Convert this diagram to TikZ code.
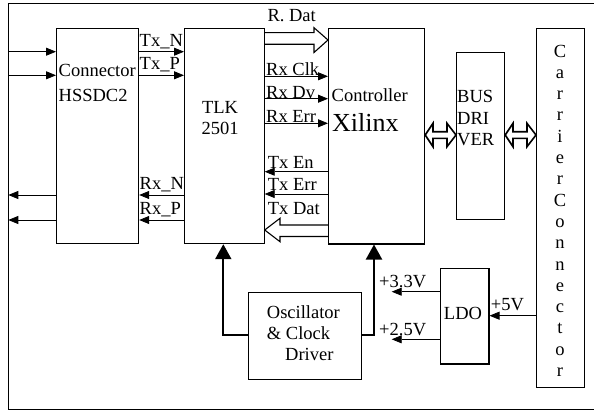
\documentclass[tikz,border=0pt]{standalone}
\usepackage{fontspec}
\setmainfont{Liberation Serif}
\usetikzlibrary{arrows.meta}
\begin{document}
\begin{tikzpicture}[x=1pt,y=-1pt,
  box/.style={draw, line width=1.2pt, anchor=north west, inner sep=0pt},
  txt/.style={inner sep=0pt, font=\fontsize{18.5}{21.3}\selectfont},
  sig/.style={line width=0.8pt, -{Triangle[length=10pt,width=8pt]}},
  pwr/.style={line width=2pt, -{Triangle[length=15pt,width=16pt]}},
  hollow/.style={draw, line width=1.1pt, line join=miter},
  bus/.style={draw, line width=1.6pt, line join=miter}]
\useasboundingbox (0,0) rectangle (594,412);
% outer frame
\draw[line width=1pt] (594.5,3.3) -- (8.3,3.3) -- (8.3,409.5) -- (594.5,409.5);
% boxes
\node[box, minimum width=82pt, minimum height=215pt] (conn) at (56,28) {};
\node[box, minimum width=79.5pt, minimum height=215pt] (tlk) at (184,28) {};
\node[box, minimum width=96pt, minimum height=215.3pt] (ctrl) at (328,28) {};
\node[box, minimum width=48pt, minimum height=167pt] (busd) at (456,52) {};
\node[box, minimum width=48pt, minimum height=359pt] (carr) at (536,28) {};
\node[box, minimum width=113.3pt, minimum height=87pt] (osc) at (247.7,292) {};
\node[box, minimum width=48.3pt, minimum height=95.3pt] (ldo) at (440,268) {};
% box texts
\node[txt, anchor=base west] (tconn1) at (58.5,76.5) {Connector};
\node[txt, anchor=base west] (tconn2) at (58.5,101.5) {HSSDC2};
\node[txt, anchor=base] (ttlk1) at (220,113.3) {TLK};
\node[txt, anchor=base] (ttlk2) at (220,134.5) {2501};
\node[txt, anchor=base west] (tctrl1) at (331.5,101.7) {Controller};
\node[inner sep=0pt, font=\fontsize{26}{30}\selectfont, anchor=base west] (tctrl2) at (332,131.7) {Xilinx};
\node[txt, anchor=base west] (tbus1) at (457,102.5) {BUS};
\node[txt, anchor=base west] (tbus2) at (457,124) {DRI};
\node[txt, anchor=base west] (tbus3) at (457,145) {VER};
\foreach \ch [count=\i from 0] in {C,a,r,r,i,e,r,C,o,n,n,e,c,t,o,r}
  \node[txt, anchor=base] (tc\i) at (560,57+21.3*\i) {\ch};
\node[txt, anchor=base west] (tosc1) at (266.7,318.3) {Oscillator};
\node[txt, anchor=base west] (tosc2) at (266.7,339.5) {\& Clock};
\node[txt, anchor=base west] (tosc3) at (285,360) {Driver};
\node[txt, anchor=base] (tldo) at (463,319.5) {LDO};
% left side connections
\coordinate (in1) at (8.3,51.7);
\coordinate (in2) at (8.3,75.3);
\coordinate (out1) at (8.3,195);
\coordinate (out2) at (8.3,220);
\draw[sig] (in1) -- (conn.west |- in1);
\draw[sig] (in2) -- (conn.west |- in2);
\draw[sig] (conn.west |- out1) -- (out1);
\draw[sig] (conn.west |- out2) -- (out2);
% connector <-> TLK
\draw[sig] (conn.east |- 0,51.7) -- (tlk.west |- 0,51.7);
\draw[sig] (conn.east |- 0,75.3) -- (tlk.west |- 0,75.3);
\draw[sig] (tlk.west |- 0,195) -- (conn.east |- 0,195);
\draw[sig] (tlk.west |- 0,220) -- (conn.east |- 0,220);
\node[txt, anchor=base west] (ltxn) at (139.5,46.2) {Tx\_N};
\node[txt, anchor=base west] (ltxp) at (139.5,69.8) {Tx\_P};
\node[txt, anchor=base west] (lrxn) at (139.5,189.5) {Rx\_N};
\node[txt, anchor=base west] (lrxp) at (139.5,214.5) {Rx\_P};
% TLK <-> controller
\draw[hollow] (tlk.east |- 0,32.7) -- (314,32.7) -- (314,27.7) -- (ctrl.west |- 0,40)
  -- (314,52.5) -- (314,44.3) -- (tlk.east |- 0,44.3);
\node[txt, anchor=base west] (lrdat) at (267.3,21.7) {R. Dat};
\draw[sig] (tlk.east |- 0,76.3) -- (ctrl.west |- 0,76.3);
\draw[sig] (tlk.east |- 0,98.7) -- (ctrl.west |- 0,98.7);
\draw[sig] (tlk.east |- 0,123.3) -- (ctrl.west |- 0,123.3);
\node[txt, anchor=base west] (lrxclk) at (266,75.5) {Rx Clk};
\node[txt, anchor=base west] (lrxdv) at (266,98) {Rx Dv};
\node[txt, anchor=base west] (lrxerr) at (266,122) {Rx Err};
\draw[sig] (ctrl.west |- 0,171.7) -- (tlk.east |- 0,171.7);
\draw[sig] (ctrl.west |- 0,194) -- (tlk.east |- 0,194);
\node[txt, anchor=base west] (ltxen) at (267.7,168.5) {Tx En};
\node[txt, anchor=base west] (ltxerr) at (267.7,190.7) {Tx Err};
\node[txt, anchor=base west] (ltxdat) at (267.7,214) {Tx Dat};
\draw[hollow] (ctrl.west |- 0,225) -- (280,225) -- (280,218.3) -- (tlk.east |- 0,230)
  -- (280,241.7) -- (280,236.5) -- (ctrl.west |- 0,236.5);
% bus arrows
\draw[bus] (ctrl.east |- 0,135) -- (433,123.3) -- (433,131.7) -- (447,131.7) -- (447,123.3)
  -- (busd.west |- 0,135) -- (447,146.7) -- (447,138.3) -- (433,138.3) -- (433,146.7) -- cycle;
\draw[bus] (busd.east |- 0,135) -- (513,123.3) -- (513,131.7) -- (527,131.7) -- (527,123.3)
  -- (carr.west |- 0,135) -- (527,146.7) -- (527,138.3) -- (513,138.3) -- (513,146.7) -- cycle;
% oscillator
\draw[pwr] (osc.west |- 0,335) -| (tlk.south -| 223.3,0);
\draw[pwr] (osc.east |- 0,335) -| (ctrl.south -| 374,0);
% LDO
\coordinate (v33) at (391.7,291.7);
\coordinate (v25) at (391.7,339.3);
\draw[sig] (ldo.west |- v33) -- (v33);
\draw[sig] (ldo.west |- v25) -- (v25);
\draw[sig] (carr.west |- 0,315.7) -- (ldo.east |- 0,315.7);
\node[txt, anchor=base west] (l33) at (379,287.5) {+3.3V};
\node[txt, anchor=base west] (l25) at (379,335) {+2.5V};
\node[txt, anchor=base west] (l5) at (490.7,310) {+5V};
\end{tikzpicture}
\end{document}
